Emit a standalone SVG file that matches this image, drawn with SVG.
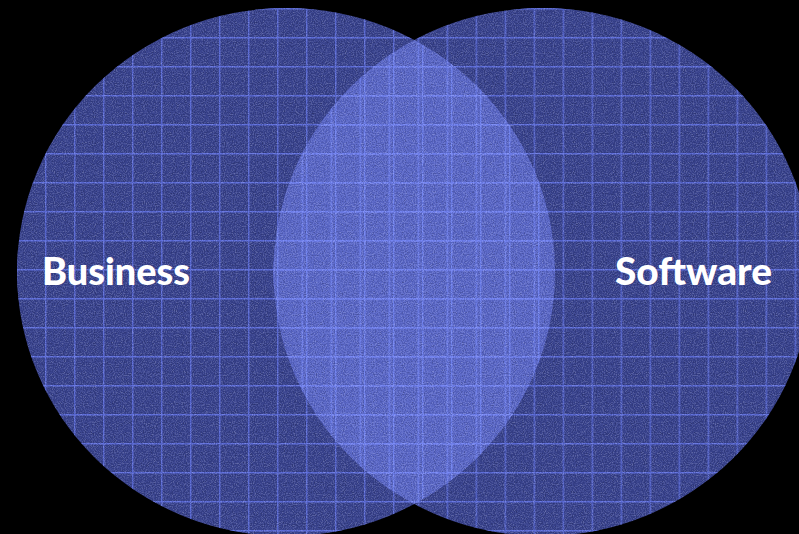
<svg xmlns="http://www.w3.org/2000/svg" width="799" height="534" viewBox="0 0 799 534">
  <style>
    .base { fill: #39438f; }
    .lens { fill: #5a67c8; }
    .label { font-family: "Lato", "Open Sans", sans-serif; font-weight: 900; font-size: 37px; fill: #ffffff; }
  </style>
  <defs>
    <pattern id="gridL" patternUnits="userSpaceOnUse" x="16" y="8" width="29" height="29">
      <path d="M0 0.75H29M0.75 0V29" stroke="#5d6ddc" stroke-width="1.3" fill="none"/>
    </pattern>
    <pattern id="gridR" patternUnits="userSpaceOnUse" x="272.6" y="8" width="29" height="29">
      <path d="M0 0.75H29M0.75 0V29" stroke="#5d6ddc" stroke-width="1.3" fill="none"/>
    </pattern>
    <pattern id="gridLlens" patternUnits="userSpaceOnUse" x="16" y="8" width="29" height="29">
      <path d="M0 0.75H29M0.75 0V29" stroke="#7182f2" stroke-width="1.3" fill="none"/>
    </pattern>
    <pattern id="gridRlens" patternUnits="userSpaceOnUse" x="272.6" y="8" width="29" height="29">
      <path d="M0 0.75H29M0.75 0V29" stroke="#7182f2" stroke-width="1.3" fill="none"/>
    </pattern>
    <clipPath id="clipR">
      <ellipse cx="542.5" cy="272" rx="269" ry="264"/>
    </clipPath>
    <clipPath id="clipUnion">
      <ellipse cx="286" cy="272" rx="269" ry="264"/>
      <ellipse cx="542.5" cy="272" rx="269" ry="264"/>
    </clipPath>
    <filter id="grain" filterUnits="userSpaceOnUse" x="0" y="0" width="799" height="534" color-interpolation-filters="sRGB">
      <feTurbulence type="fractalNoise" baseFrequency="0.9" numOctaves="2" seed="5" result="n"/>
      <feColorMatrix in="n" type="matrix" values="0 0 0 0 1  0 0 0 0 1  0 0 0 0 1  0.8 0 0 0 -0.38" result="w"/>
      <feColorMatrix in="n" type="matrix" values="0 0 0 0 0  0 0 0 0 0  0 0 0 0 0  -0.8 0 0 0 0.42" result="b"/>
      <feMerge><feMergeNode in="b"/><feMergeNode in="w"/></feMerge>
    </filter>
  </defs>

  <rect width="799" height="534" fill="#000000"/>

  <g id="business">
    <ellipse class="base" cx="286" cy="272" rx="269" ry="264"/>
    <ellipse cx="286" cy="272" rx="269" ry="264" fill="url(#gridL)"/>
  </g>

  <g id="software">
    <ellipse class="base" cx="542.5" cy="272" rx="269" ry="264"/>
    <ellipse cx="542.5" cy="272" rx="269" ry="264" fill="url(#gridR)"/>
  </g>

  <g id="overlap" clip-path="url(#clipR)">
    <ellipse class="lens" cx="286" cy="272" rx="269" ry="264"/>
    <ellipse cx="286" cy="272" rx="269" ry="264" fill="url(#gridLlens)"/>
    <ellipse cx="286" cy="272" rx="269" ry="264" fill="url(#gridRlens)"/>
  </g>

  <g id="texture" clip-path="url(#clipUnion)">
    <rect width="799" height="534" fill="#000" filter="url(#grain)" opacity="0.75"/>
  </g>

  <g id="connectors"></g>

  <g id="labels">
    <text class="label" x="42" y="285" textLength="148" lengthAdjust="spacingAndGlyphs">Business</text>
    <text class="label" x="615" y="285" textLength="157" lengthAdjust="spacingAndGlyphs">Software</text>
  </g>
</svg>
